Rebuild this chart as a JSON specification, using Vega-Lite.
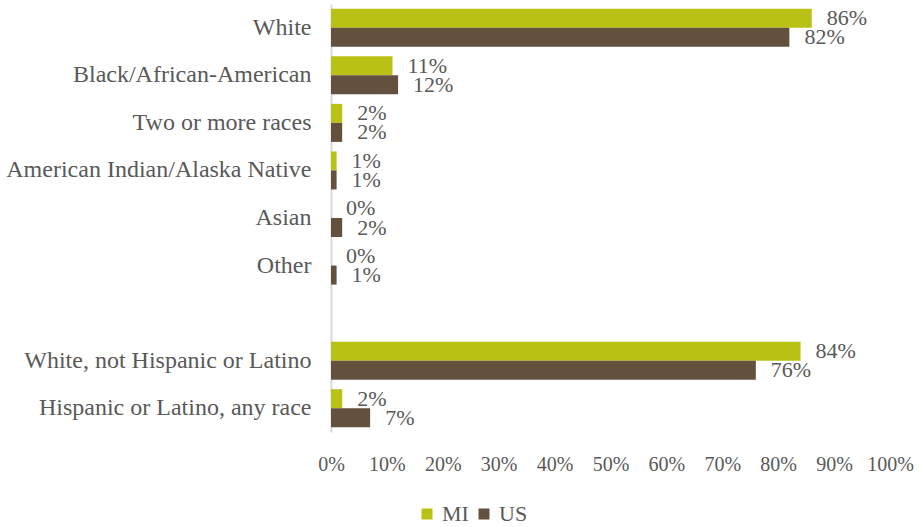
{
  "$schema": "https://vega.github.io/schema/vega-lite/v6.json",
  "width": 559,
  "height": 428,
  "autosize": {"type": "none"},
  "padding": {"left": 331, "top": 4, "right": 29, "bottom": 95},
  "background": "white",
  "config": {
    "font": "Liberation Serif, Times New Roman, serif",
    "view": {"stroke": null},
    "axis": {"labelFont": "Liberation Serif, Times New Roman, serif", "labelColor": "#595959", "labelFontSize": 20, "ticks": false, "grid": false},
    "legend": {"labelFont": "Liberation Serif, Times New Roman, serif", "labelColor": "#595959", "labelFontSize": 22},
    "text": {"font": "Liberation Serif, Times New Roman, serif"}
  },
  "data": {
    "values": [
      {"category": "White", "region": "MI", "value": 0.86},
      {"category": "White", "region": "US", "value": 0.82},
      {"category": "Black/African-American", "region": "MI", "value": 0.11},
      {"category": "Black/African-American", "region": "US", "value": 0.12},
      {"category": "Two or more races", "region": "MI", "value": 0.02},
      {"category": "Two or more races", "region": "US", "value": 0.02},
      {"category": "American Indian/Alaska Native", "region": "MI", "value": 0.01},
      {"category": "American Indian/Alaska Native", "region": "US", "value": 0.01},
      {"category": "Asian", "region": "MI", "value": 0},
      {"category": "Asian", "region": "US", "value": 0.02},
      {"category": "Other", "region": "MI", "value": 0},
      {"category": "Other", "region": "US", "value": 0.01},
      {"category": "White, not Hispanic or Latino", "region": "MI", "value": 0.84},
      {"category": "White, not Hispanic or Latino", "region": "US", "value": 0.76},
      {"category": "Hispanic or Latino, any race", "region": "MI", "value": 0.02},
      {"category": "Hispanic or Latino, any race", "region": "US", "value": 0.07}
    ]
  },
  "encoding": {
    "y": {
      "field": "category",
      "type": "nominal",
      "title": null,
      "scale": {
        "domain": ["White", "Black/African-American", "Two or more races", "American Indian/Alaska Native", "Asian", "Other", " ", "White, not Hispanic or Latino", "Hispanic or Latino, any race"],
        "paddingInner": 0.2,
        "paddingOuter": 0.1
      },
      "axis": {"domainColor": "#d9d9d9", "domainWidth": 2, "labelPadding": 20, "labelLimit": 400, "labelFontSize": 24}
    },
    "yOffset": {"field": "region", "type": "nominal", "scale": {"domain": ["MI", "US"]}},
    "x": {
      "field": "value",
      "type": "quantitative",
      "title": null,
      "scale": {"domain": [0, 1], "nice": false},
      "axis": {"values": [0, 0.1, 0.2, 0.3, 0.4, 0.5, 0.6, 0.7, 0.8, 0.9, 1], "format": ".0%", "domain": false, "labelPadding": 22, "labelFlush": false}
    }
  },
  "layer": [
    {
      "mark": {"type": "bar"},
      "encoding": {
        "color": {
          "field": "region",
          "type": "nominal",
          "scale": {"domain": ["MI", "US"], "range": ["#b9c214", "#63513e"]},
          "legend": {"title": null, "orient": "none", "direction": "horizontal", "legendX": 85, "legendY": 499, "symbolType": "square", "symbolSize": 121, "symbolStrokeWidth": 0, "columnPadding": 4, "labelOffset": 4}
        }
      }
    },
    {
      "mark": {"type": "text", "align": "left", "baseline": "middle", "dx": 15, "fontSize": 22, "color": "#595959"},
      "encoding": {
        "text": {"field": "value", "type": "quantitative", "format": ".0%"},
        "detail": {"field": "region"}
      }
    }
  ]
}
